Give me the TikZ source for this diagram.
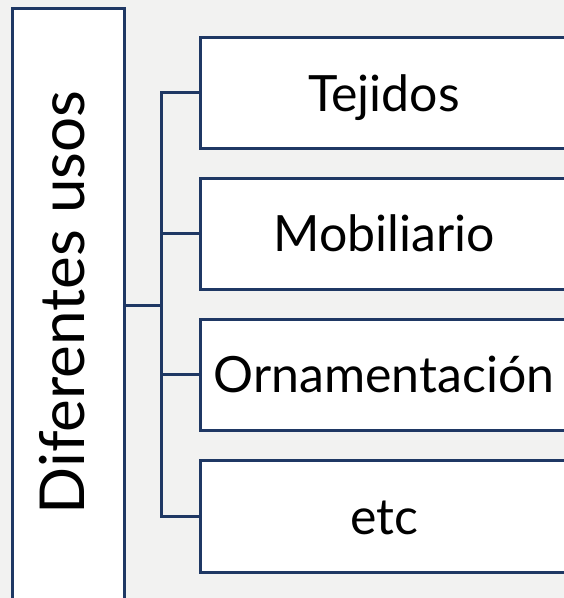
\documentclass[tikz,border=0pt]{standalone}
\usepackage{fontspec}
\setmainfont{Lato}
\definecolor{bg}{HTML}{F2F2F1}
\definecolor{navy}{HTML}{1F3864}
\tikzset{
  box/.style={draw=navy, line width=3pt, fill=white},
  conn/.style={draw=navy, line width=3pt},
  lbl/.style={font=\fontsize{50}{60}\selectfont, anchor=base, inner sep=0pt},
  vlbl/.style={font=\fontsize{62}{70}\selectfont, anchor=base, inner sep=0pt, rotate=90}
}
\begin{document}
\begin{tikzpicture}[x=1pt,y=-1pt]
\path[fill=bg] (0,0) rectangle (564,598);
\useasboundingbox (0,0) rectangle (564,598);
\begin{scope}
\clip (0,0) rectangle (564,598);
\draw[box] (12,8) rectangle (124,620);
\node[vlbl] (main) at (84,302.5) {Diferentes usos};
\coordinate (mR) at (124,305);
\draw[box] (200,37) rectangle (580,148);
\draw[box] (200,178) rectangle (580,289);
\draw[box] (200,319) rectangle (580,430);
\draw[box] (200,460) rectangle (580,572);
\coordinate (a) at (200,92.5);
\coordinate (b) at (200,233.5);
\coordinate (c) at (200,374.5);
\coordinate (d) at (200,516);
\node[lbl] (ta) at (384,111) {Tejidos};
\node[lbl] (tb) at (384,251) {Mobiliario};
\node[lbl] (tc) at (384,392) {Ornamentación};
\node[lbl] (td) at (384,534) {etc};
\coordinate (j) at (161,305);
\draw[conn] (mR) -- (j);
\draw[conn] (j) |- (a);
\draw[conn] (j) |- (b);
\draw[conn] (j) |- (c);
\draw[conn] (j) |- (d);
\end{scope}
\end{tikzpicture}
\end{document}
